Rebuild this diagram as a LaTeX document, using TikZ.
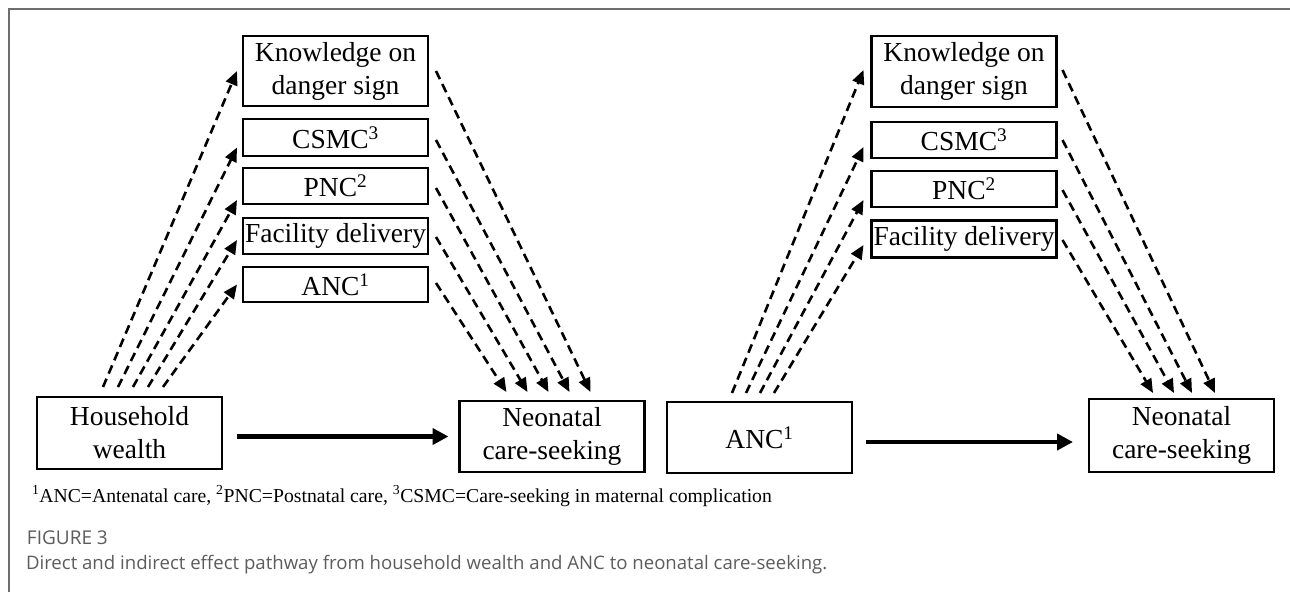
\documentclass[tikz,border=0pt]{standalone}
\usepackage{fontspec}
\setmainfont{Liberation Serif}
\newfontfamily\capfont{Open Sans}
\usetikzlibrary{arrows.meta,calc}
\definecolor{framegray}{HTML}{6E6E6E}
\definecolor{capgray}{HTML}{5C5C5C}

\begin{document}
\begin{tikzpicture} [
                x=1pt, y=-1pt,
                every node/.style={inner sep=0pt, outer sep=0pt},
                box/.style={draw, line width=2.1pt, minimum width=185pt, align=center,
                            font=\fontsize{27.5}{33}\selectfont},
                path edge/.style = {draw, line width=2.6pt, dash pattern=on 9pt off 5.5pt,
                                    -{Triangle[length=14pt,width=12pt]}},
                direct edge/.style = {draw, line width=4.5pt, -{Triangle[length=16pt,width=16pt]}},
                note/.style = {anchor=west, font=\fontsize{19.7}{23}\selectfont},
            ]
            \useasboundingbox (0,0) rectangle (1290,592);
            % frame of the figure
            \draw[line width=1.5pt, framegray] (9,592) -- (9,9) -- (1290,9);
            % First we draw the boxes
            \foreach \pos/\name/\h/\txt in {
                    {(335.5,71)/kl/70/{Knowledge on\\danger sign}},
                    {(335.5,137.5)/cl/37/{CSMC\textsuperscript{3}}},
                    {(335.5,186)/pl/36/{PNC\textsuperscript{2}}},
                    {(335.5,236)/fl/36/{Facility delivery}},
                    {(335.5,284.5)/al/35/{ANC\textsuperscript{1}}},
                    {(129.5,433)/hw/72/{Household\\wealth}},
                    {(552,436.5)/nl/71/{Neonatal\\care-seeking}},
                    {(964,71.5)/kr/71/{Knowledge on\\danger sign}},
                    {(964,140)/cr/36/{CSMC\textsuperscript{3}}},
                    {(964,189)/pr/36/{PNC\textsuperscript{2}}},
                    {(964,239)/fr/37/{Facility delivery}},
                    {(759.5,437.5)/ar/71/{ANC\textsuperscript{1}}},
                    {(1181.5,435.5)/nr/73/{Neonatal\\care-seeking}}}
                \node[box, minimum height=\h pt] (\name) at \pos {\txt};
            % Indirect paths from household wealth
            \foreach \dest/\dx/\dy in {kl/66/0, cl/81/10, pl/96/14, fl/111/4, al/126/0}
                \path[path edge] ($(hw.north west)+(\dx,-10)$) -- ($(\dest.west)+(-6,\dy)$);
            \foreach \src/\dy/\dx in {kl/0/131, cl/2.5/110, pl/2/89, fl/1/68, al/-1.5/47}
                \path[path edge] ($(\src.east)+(8,\dy)$) -- ($(nl.north west)+(\dx,-9)$);
            % Indirect paths from ANC
            \foreach \dest/\dx/\dy in {kr/65/-1.5, cr/79/7, pr/93/11, fr/107/6}
                \path[path edge] ($(ar.north west)+(\dx,-9)$) -- ($(\dest.west)+(-8,\dy)$);
            \foreach \src/\dy/\dx in {kr/-1.5/126, cr/0/103, pr/1/85, fr/1/64}
                \path[path edge] ($(\src.east)+(6,\dy)$) -- ($(nr.north west)+(\dx,-6)$);
            % Direct paths
            \path[direct edge] ($(hw.east |- nl.west)+(15,0)$) -- ($(nl.west)+(-11,0)$);
            \path[direct edge] ($(ar.east)+(14,4.5)$) -- ($(nr.west)+(-16,6.5)$);
            % Notes and caption
            \node[note] (abbrev) at (32,496) {\textsuperscript{1}ANC=Antenatal care, \textsuperscript{2}PNC=Postnatal care, \textsuperscript{3}CSMC=Care-seeking in maternal complication};
            \node[anchor=west, font=\capfont\fontsize{19}{22}\selectfont, text=capgray] (figno) at (27,538) {FIGURE 3};
            \node[anchor=west, font=\capfont\fontsize{18.6}{22}\selectfont, text=capgray] (caption) at (26,565) {Direct and indirect effect pathway from household wealth and ANC to neonatal care-seeking.};
        \end{tikzpicture}
\end{document}
